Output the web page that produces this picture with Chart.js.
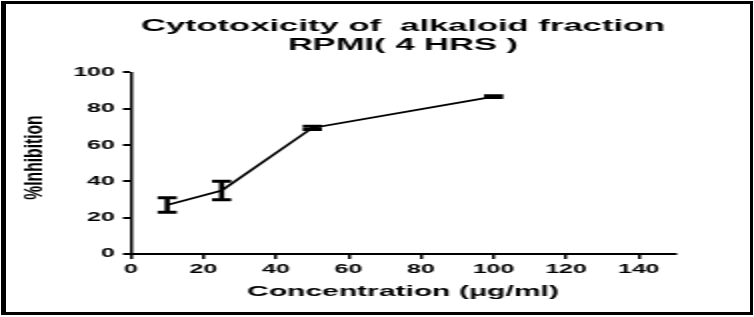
<!DOCTYPE html>
<html><head><meta charset="utf-8">
<script src="https://cdn.jsdelivr.net/npm/chart.js@4"></script>
<style>
html,body{margin:0;padding:0;background:#fff;width:754px;height:317px;overflow:hidden;}
#wrap{position:absolute;left:0;top:0;width:377px;height:317px;transform:scaleX(2);transform-origin:0 0;}
#frame{position:absolute;left:1px;top:1px;width:752px;height:314px;box-sizing:border-box;border-style:solid;border-color:#000;border-width:3px 3px 3px 5px;pointer-events:none;}
</style></head><body>
<div id="wrap"><canvas id="c"></canvas></div>
<div id="frame"></div>
<script>
const titleLines = ['Cytotoxicity of  alkaloid fraction', 'RPMI( 4 HRS )'];
const xAxisTitle = 'Concentration (\u03bcg/ml)';
const yAxisTitle = '%Inhibition';
const concentrations = [10, 25, 50, 100];
const inhibitionMean = [27, 35, 69.5, 86.7];
const inhibitionErr = [4, 5.1, 0.9, 0.5];
const xTicks = [0, 20, 40, 60, 80, 100, 120, 140];
const yTicks = [0, 20, 40, 60, 80, 100];

const FONT = '"Liberation Sans", Arial, sans-serif';
Chart.defaults.font.family = FONT;
Chart.defaults.color = '#000';

const errorBars = {
  id: 'errorBars',
  afterDatasetsDraw(chart) {
    const {ctx, scales: {x, y}} = chart;
    ctx.save();
    ctx.strokeStyle = '#000';
    ctx.lineCap = 'butt';
    concentrations.forEach((c, i) => {
      const px = x.getPixelForValue(c);
      const top = y.getPixelForValue(inhibitionMean[i] + inhibitionErr[i]);
      const bot = y.getPixelForValue(inhibitionMean[i] - inhibitionErr[i]);
      ctx.lineWidth = 2.6;
      ctx.beginPath(); ctx.moveTo(px, top); ctx.lineTo(px, bot); ctx.stroke();
      ctx.lineWidth = 3;
      ctx.beginPath();
      ctx.moveTo(px - 4.8, top); ctx.lineTo(px + 4.8, top);
      ctx.moveTo(px - 4.8, bot); ctx.lineTo(px + 4.8, bot);
      ctx.stroke();
    });
    ctx.restore();
  }
};

const yLabel = {
  id: 'yLabel',
  afterDraw(chart) {
    const {ctx} = chart;
    ctx.save();
    ctx.translate(17.5, 157.5);
    ctx.rotate(-Math.PI / 2);
    ctx.scale(0.92, 0.75);
    ctx.font = 'bold 17px ' + FONT;
    ctx.textAlign = 'center';
    ctx.textBaseline = 'middle';
    ctx.fillStyle = '#000';
    ctx.fillText(yAxisTitle, 0, 0);
    ctx.restore();
  }
};

new Chart(document.getElementById('c'), {
  type: 'line',
  data: {
    datasets: [{
      data: concentrations.map((c, i) => ({x: c, y: inhibitionMean[i]})),
      borderColor: '#000',
      borderWidth: 1.7,
      pointRadius: 0,
      tension: 0,
      fill: false
    }]
  },
  options: {
    responsive: true,
    maintainAspectRatio: false,
    animation: false,
    layout: {padding: {left: 0, right: 39.5, top: 0, bottom: 0}},
    plugins: {
      legend: {display: false},
      tooltip: {enabled: false},
      title: {
        display: true,
        text: titleLines,
        color: '#000',
        fullSize: false,
        font: {size: 17.3, weight: 'bold', lineHeight: 1.13},
        padding: {top: 16.3, bottom: 17.1}
      }
    },
    scales: {
      x: {
        type: 'linear', min: 0, max: 150,
        afterBuildTicks: s => { s.ticks = xTicks.map(v => ({value: v})); },
        afterFit: s => { s.height = 63; },
        ticks: {font: {size: 12.5, weight: 'bold'}, color: '#000', padding: 3, maxRotation: 0},
        grid: {display: true, drawOnChartArea: false, drawTicks: true, tickLength: 5, color: '#000', lineWidth: 1.5},
        border: {display: true, color: '#000', width: 2},
        title: {display: true, text: xAxisTitle, color: '#000', font: {size: 15, weight: 'bold'}, padding: {top: 0, bottom: 16}}
      },
      y: {
        type: 'linear', min: 0, max: 100,
        afterBuildTicks: s => { s.ticks = yTicks.map(v => ({value: v})); },
        afterFit: s => { s.width = 65.5; },
        ticks: {font: {size: 12.5, weight: 'bold'}, color: '#000', padding: 4},
        grid: {display: true, drawOnChartArea: false, drawTicks: true, tickLength: 4, color: '#000', lineWidth: 2},
        border: {display: true, color: '#000', width: 1.5},
        title: {display: false}
      }
    }
  },
  plugins: [errorBars, yLabel]
});
</script>
</body></html>
